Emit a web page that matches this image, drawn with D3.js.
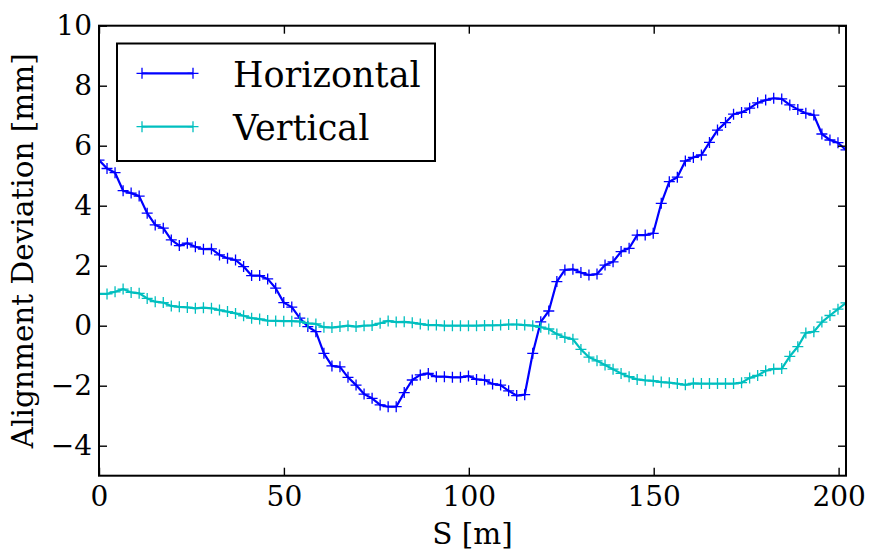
<!DOCTYPE html>
<html>
<head>
<meta charset="utf-8">
<script src="https://cdn.jsdelivr.net/npm/d3@7"></script>
<style>
  html, body { margin: 0; padding: 0; background: #fff; }
  svg { display: block; font-family: "DejaVu Serif", serif; }
</style>
</head>
<body>
<svg id="chart" width="870" height="550"></svg>
<script>
// ---- data ----
const S = [0, 2.17, 4.34, 6.52, 8.69, 10.86, 13.03, 15.20, 17.38, 19.55,
  21.72, 23.89, 26.06, 28.24, 30.41, 32.58, 34.75, 36.92, 39.10, 41.27,
  43.44, 45.61, 47.78, 49.96, 52.13, 54.30, 56.47, 58.65, 60.82, 62.99,
  65.16, 67.33, 69.51, 71.68, 73.85, 76.02, 78.19, 80.37, 82.54, 84.71,
  86.88, 89.05, 91.23, 93.40, 95.57, 97.74, 99.91, 102.09, 104.26, 106.43,
  108.60, 110.77, 112.95, 115.12, 117.29, 119.46, 121.63, 123.81, 125.98, 128.15,
  130.32, 132.49, 134.67, 136.84, 139.01, 141.18, 143.35, 145.53, 147.70, 149.87,
  152.04, 154.22, 156.39, 158.56, 160.73, 162.90, 165.08, 167.25, 169.42, 171.59,
  173.76, 175.94, 178.11, 180.28, 182.45, 184.62, 186.80, 188.97, 191.14, 193.31,
  195.48, 197.66, 199.83, 202.00];

const horizontal = [5.52, 5.24, 5.1, 4.5, 4.42, 4.32, 3.75, 3.36, 3.25, 2.86,
  2.67, 2.75, 2.63, 2.55, 2.56, 2.36, 2.25, 2.19, 1.97, 1.67,
  1.67, 1.56, 1.25, 0.77, 0.62, 0.25, -0.03, -0.2, -0.92, -1.34,
  -1.37, -1.72, -1.98, -2.28, -2.42, -2.64, -2.7, -2.7, -2.23, -1.81,
  -1.64, -1.59, -1.7, -1.7, -1.72, -1.72, -1.68, -1.79, -1.81, -1.94,
  -1.98, -2.17, -2.33, -2.3, -0.92, 0.13, 0.49, 1.47, 1.86, 1.88,
  1.77, 1.69, 1.72, 2.02, 2.13, 2.47, 2.58, 3.02, 3.02, 3.08,
  4.08, 4.8, 4.95, 5.49, 5.61, 5.69, 6.11, 6.52, 6.77, 7.05,
  7.11, 7.25, 7.43, 7.52, 7.58, 7.56, 7.36, 7.21, 7.08, 7.02,
  6.39, 6.19, 6.1, 5.86];

const vertical = [1.06, 1.06, 1.13, 1.22, 1.11, 1.08, 0.91, 0.8, 0.77, 0.66,
  0.63, 0.61, 0.58, 0.6, 0.58, 0.52, 0.47, 0.41, 0.33, 0.25,
  0.22, 0.17, 0.16, 0.15, 0.15, 0.14, 0.08,
  0.06, -0.05, -0.06, -0.03, 0.0, -0.03, 0.0, 0.01, 0.08, 0.16,
  0.12, 0.13, 0.1, 0.06, 0.02, 0.02, 0.0, 0.0, 0.0, 0.0,
  0.0, 0.01, 0.01, 0.02, 0.04, 0.04, 0.02, 0.0,
  -0.05, -0.11, -0.28, -0.39, -0.45, -0.79, -1.05, -1.17, -1.31, -1.45,
  -1.59, -1.7, -1.79, -1.82, -1.84, -1.88, -1.9, -1.93, -1.97, -1.92,
  -1.93, -1.93, -1.93, -1.93, -1.93, -1.9, -1.74, -1.66, -1.5, -1.44,
  -1.43, -1.02, -0.7, -0.24, -0.2, 0.12, 0.34, 0.55, 0.76];

const seriesNames = ["Horizontal", "Vertical"];
const seriesColors = ["#0000ff", "#00bfbf"];
const xTicks = [0, 50, 100, 150, 200];
const yTicks = [-4, -2, 0, 2, 4, 6, 8, 10];
const xDomain = [0, 202];
const yDomain = [-5, 10];

// ---- layout ----
const L = 99, R = 846, T = 25.7, B = 475.7;
const svg = d3.select("#chart");
const x = d3.scaleLinear().domain(xDomain).range([L, R]);
const y = d3.scaleLinear().domain(yDomain).range([B, T]);

svg.append("defs").append("clipPath").attr("id", "plotclip")
  .append("rect").attr("x", L).attr("y", T).attr("width", R - L).attr("height", B - T);

const series = [horizontal, vertical];
const line = d3.line().x((d, i) => x(S[i])).y(d => y(d));
const plot = svg.append("g").attr("clip-path", "url(#plotclip)");
const ms = 5.5;
series.forEach((vals, k) => {
  plot.append("path").datum(vals)
    .attr("d", line).attr("fill", "none")
    .attr("stroke", seriesColors[k]).attr("stroke-width", 2.2)
    .attr("stroke-linejoin", "round");
  plot.append("g").selectAll("path").data(vals).join("path")
    .attr("d", (d, i) => {
      const cx = x(S[i]), cy = y(d);
      return `M${cx - ms},${cy}H${cx + ms}M${cx},${cy - ms}V${cy + ms}`;
    })
    .attr("stroke", seriesColors[k]).attr("stroke-width", 1.3).attr("fill", "none");
});

// ---- axes ----
const tickLen = 8;
const fs = 28;
const axB = d3.axisBottom(x).tickValues(xTicks).tickSize(-tickLen).tickPadding(10).tickFormat(d3.format("d"));
const axT = d3.axisTop(x).tickValues(xTicks).tickSize(-tickLen).tickFormat("");
const fmtY = d => (d < 0 ? "\u2212" + Math.abs(d) : String(d));
const axL = d3.axisLeft(y).tickValues(yTicks).tickSize(-tickLen).tickPadding(7).tickFormat(fmtY);
const axR = d3.axisRight(y).tickValues(yTicks).tickSize(-tickLen).tickFormat("");

function style(g) {
  g.select(".domain").remove();
  g.selectAll(".tick line").attr("stroke", "#000").attr("stroke-width", 1.4);
  g.selectAll(".tick text").attr("fill", "#000").style("font-size", fs + "px")
    .style("font-family", '"DejaVu Serif", serif');
}
svg.append("g").attr("transform", `translate(0,${B})`).call(axB).call(style);
svg.append("g").attr("transform", `translate(0,${T})`).call(axT).call(style);
svg.append("g").attr("transform", `translate(${L},0)`).call(axL).call(style);
svg.append("g").attr("transform", `translate(${R},0)`).call(axR).call(style);

svg.append("rect").attr("x", L).attr("y", T).attr("width", R - L).attr("height", B - T)
  .attr("fill", "none").attr("stroke", "#000").attr("stroke-width", 2);

// axis labels
svg.append("text").attr("x", (L + R) / 2).attr("y", 544).attr("text-anchor", "middle")
  .style("font-size", "29.5px").text("S [m]");
svg.append("text").attr("transform", `translate(33,${(T + B) / 2}) rotate(-90)`)
  .attr("text-anchor", "middle").style("font-size", "29.5px").text("Alignment Deviation [mm]");

// ---- legend ----
const lg = svg.append("g");
lg.append("rect").attr("x", 117).attr("y", 43.5).attr("width", 318).attr("height", 117.5)
  .attr("fill", "#fff").attr("stroke", "#000").attr("stroke-width", 2);
const legY = [73.3, 126.7];
seriesNames.forEach((name, k) => {
  const yy = legY[k];
  lg.append("line").attr("x1", 142).attr("x2", 193).attr("y1", yy).attr("y2", yy)
    .attr("stroke", seriesColors[k]).attr("stroke-width", 2.2);
  [142, 193].forEach(cx => {
    lg.append("path").attr("d", `M${cx - ms},${yy}H${cx + ms}M${cx},${yy - ms}V${yy + ms}`)
      .attr("stroke", seriesColors[k]).attr("stroke-width", 1.3);
  });
  lg.append("text").attr("x", 233).attr("y", yy + 13.5).style("font-size", "35px").text(name);
});
</script>
</body>
</html>
